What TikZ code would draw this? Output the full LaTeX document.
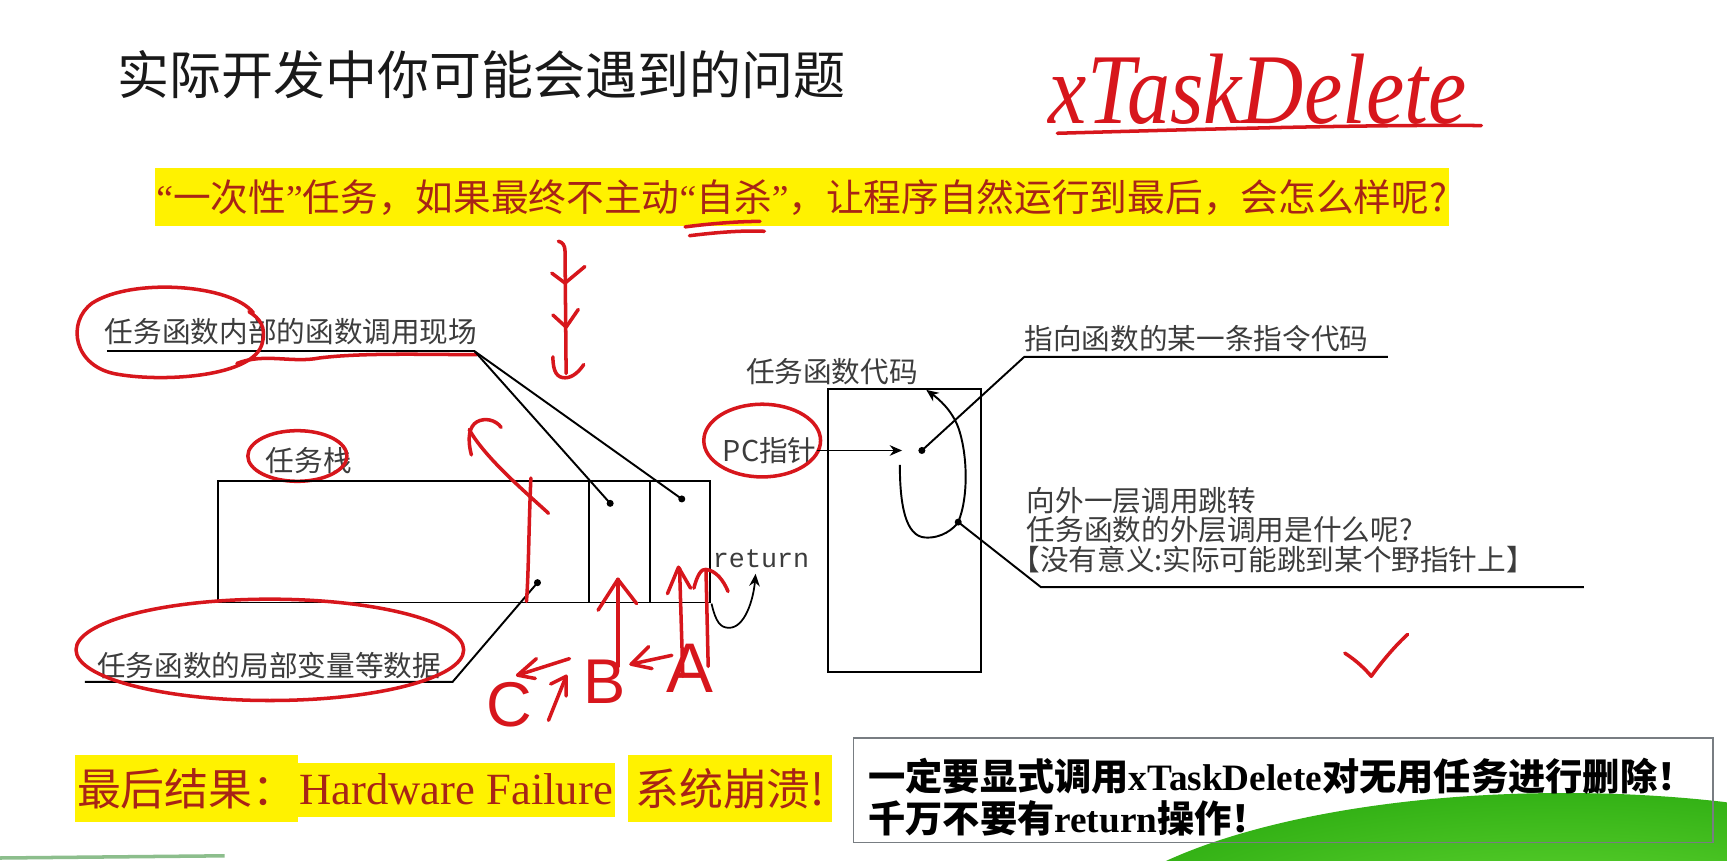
\documentclass[tikz,border=0pt]{standalone}
\usepackage{fontspec}
\setmainfont{Liberation Serif}
\newfontfamily\cjk{Noto Sans CJK SC}
\newfontfamily\mono{Liberation Mono}
\newfontfamily\hand{Liberation Sans}
\usetikzlibrary{arrows.meta,calc,shapes.geometric}

\definecolor{handred}{RGB}{215,22,28}
\definecolor{lblgray}{RGB}{60,60,60}
\definecolor{hltext}{RGB}{168,36,22}
\definecolor{boxgray}{RGB}{120,125,130}
\definecolor{greenin}{RGB}{112,226,58}
\definecolor{greenout}{RGB}{52,178,22}
\definecolor{graygreen}{RGB}{140,190,140}

\begin{document}
\begin{tikzpicture}[x=0.0220281cm, y=-0.0220281cm,
  lbl/.style={font=\cjk\fontsize{16.3pt}{18pt}\selectfont, text=lblgray, inner sep=0pt, anchor=west},
  ink/.style={draw=black, line width=1.1pt},
  redink/.style={draw=handred, line width=2pt, line cap=round, line join=round},
  dotmark/.style={circle, fill=black, inner sep=0pt, minimum size=4pt},
  hl/.style={fill=yellow, inner xsep=1pt, inner ysep=0pt, text=hltext, anchor=west},
  handletter/.style={text=handred, font=\hand\fontsize{36pt}{36pt}\selectfont, inner sep=0pt},
  tip/.style={-{Stealth[length=7pt,width=6pt]}}
]
\useasboundingbox (0,0) rectangle (1568,781);
\fill[white] (0,0) rectangle (1568,781);

% decorative green hill in the lower right corner
\begin{scope}
  \clip (0,0) rectangle (1568,781);
  \shade[inner color=greenin, outer color=greenout] (1420,870) ellipse [x radius=447, y radius=150];
  \draw[graygreen, line width=2pt] (0,779) -- (204,777);
\end{scope}

% heading and handwritten API name
\node[anchor=west, inner sep=0pt, font=\cjk\fontsize{29.6pt}{30pt}\selectfont, text=black!90] (title) at (106,68) {实际开发中你可能会遇到的问题};
\node[anchor=base west, inner sep=0pt, text=handred] (xtd) at (952,112) {\scalebox{0.86}[1]{\fontsize{57pt}{57pt}\selectfont\itshape xTaskDelete}};
\coordinate (xtdu1) at (960,121); \coordinate (xtdu2) at (1345,114);
\draw[redink] (xtdu1) .. controls (1100,117) and (1250,113) .. (xtdu2);

% highlighted question
\node[hl, minimum height=33.2pt, font=\cjk\fontsize{21.45pt}{22pt}\selectfont] (question) at (140,179) {{\rmfamily “}一次性{\rmfamily ”}任务，如果最终不主动{\rmfamily “}自杀{\rmfamily ”}，让程序自然运行到最后，会怎么样呢?};
\draw[redink] (622,206) .. controls (645,203) and (670,201) .. (690,201);
\draw[redink] (626,214) .. controls (650,211) and (675,209) .. (694,210);

% handwritten downward arrows
\draw[redink] (507,219) .. controls (511,220) and (513,223) .. (513,228) -- (514,339);
\draw[redink] (501,248) -- (513,257) -- (531,242);
\draw[redink] (502,286) -- (514,297) -- (525,281);
\draw[redink] (502,324) .. controls (502,338) and (506,343) .. (513,343) .. controls (520,343) and (526,337) .. (530,331);

% call-site label
\node[lbl] (callsite) at (95,301) {任务函数内部的函数调用现场};
\coordinate (callu1) at (97,319); \coordinate (callu2) at (431,319);
\draw[ink] (callu1) -- (callu2);
\draw[redink] (230,284) .. controls (210,258) and (120,252) .. (84,275) .. controls (60,292) and (66,334) .. (108,340) .. controls (150,347) and (230,342) .. (238,312) .. controls (242,297) and (236,289) .. (226,283);
\draw[redink] (215,330) .. controls (240,320) and (265,330) .. (290,325) .. controls (330,320) and (390,322) .. (433,322);

% task stack
\node[lbl] (stacklbl) at (241,418) {任务栈};
\draw[redink] (270,414) ellipse [x radius=45, y radius=23];
\coordinate (stackNW) at (198,437); \coordinate (stackSE) at (645,547);
\draw[ink] (stackNW) rectangle (stackSE);
\draw[ink] (535,437) -- (535,547);
\draw[ink] (590,437) -- (590,547);
\node[dotmark] (dotB) at (554,457) {};
\node[dotmark] (dotA) at (619,453) {};
\node[dotmark] (dotC) at (488,529) {};
\draw[ink] (callu2) -- (dotB.center);
\draw[ink] (callu2) -- (dotA.center);

% local data label
\node[lbl] (locals) at (88,604) {任务函数的局部变量等数据};
\coordinate (locu1) at (77,619); \coordinate (locu2) at (411,619);
\draw[ink] (locu1) -- (locu2) -- (dotC.center);
\draw[redink] (245,590) ellipse [x radius=176, y radius=46];

% return arrow
\node[anchor=west, inner sep=0pt, font=\mono\fontsize{15.2pt}{16pt}\selectfont, text=lblgray] (ret) at (647,507) {return};
\coordinate (retfrom) at (646,548); \coordinate (retto) at (686,521);
\draw[ink, line width=1pt, tip] (retfrom) .. controls (650,565) and (654,570) .. (662,570) .. controls (676,570) and (684,545) .. (retto);

% task code block
\node[lbl] (codelbl) at (677,337) {任务函数代码};
\coordinate (codeNW) at (752,353); \coordinate (codeSE) at (891,610);
\draw[ink] (codeNW) rectangle (codeSE);
\node[lbl] (pc) at (656,409) {PC指针};
\draw[redink] (692,400) ellipse [x radius=53, y radius=33];
\node[dotmark] (pcdot) at (837,409) {};
\coordinate (pctip) at (819,409);
\draw[ink, tip] (pc.east) -- (pctip);

\node[lbl] (pointlbl) at (930,307) {指向函数的某一条指令代码};
\coordinate (ptu1) at (930,324); \coordinate (ptu2) at (1260,324);
\draw[ink] (ptu2) -- (ptu1) -- (pcdot.center);

\coordinate (loopstart) at (817,422); \coordinate (loopend) at (841,354);
\node[dotmark] (retdot) at (870,474) {};
\draw[ink, tip] (loopstart) .. controls (817,458) and (822,487) .. (840,488) .. controls (855,489) and (866,480) .. (retdot.center) .. controls (880,450) and (878,410) .. (870,388) .. controls (864,372) and (852,362) .. (loopend);

\coordinate (outu1) at (945,533); \coordinate (outu2) at (1438,533);
\draw[ink] (retdot.center) -- (outu1) -- (outu2);
\node[lbl] (out1) at (932,455) {向外一层调用跳转};
\node[lbl] (out2) at (932,481) {任务函数的外层调用是什么呢?};
\node[lbl] (out3) at (918,508) {【没有意义:实际可能跳到某个野指针上】};

% handwritten unwinding order C <- B <- A
\draw[redink] (482,434) .. controls (480,480) and (480,520) .. (478,546);
\draw[redink] (498,466) .. controls (475,445) and (440,415) .. (426,390);
\draw[redink] (428,413) .. controls (424,398) and (426,387) .. (433,383) .. controls (440,379) and (450,381) .. (455,388);

\draw[redink] (561,605) -- (561,526);
\draw[redink] (543,554) -- (561,526) -- (578,548);
\draw[redink] (610,595) -- (573,603);
\draw[redink] (589,587) -- (573,603) -- (592,607);

\draw[redink] (620,614) -- (617,516);
\draw[redink] (643,605) -- (641,518);
\draw[redink] (606,539) -- (616,515) -- (627,534);
\draw[redink] (630,534) .. controls (633,522) and (637,516) .. (641,517) .. controls (650,518) and (657,527) .. (661,537);

\draw[redink] (517,598) -- (470,613);
\draw[redink] (487,598) -- (470,613) -- (486,616);
\draw[redink] (498,654) -- (514,614);
\draw[redink] (500,621) -- (514,614) -- (514,632);

\node[handletter] (letB) at (549,619) {B};
\node[handletter, font=\hand\fontsize{40pt}{40pt}\selectfont] (letA) at (626,607) {A};
\node[handletter] (letC) at (462,640) {C};

% tick mark
\draw[redink] (1221,593) .. controls (1232,600) and (1240,608) .. (1245,614) .. controls (1255,600) and (1268,585) .. (1278,576);

% result line
\node[hl, minimum height=38.2pt, font=\cjk\fontsize{25pt}{25pt}\selectfont] (res1) at (68,716) {最后结果：};
\node[hl, minimum height=30.7pt, font=\fontsize{25.4pt}{26pt}\selectfont] (res2) at (270,717) {Hardware Failure};
\node[hl, minimum height=38.2pt, inner xsep=4pt, font=\cjk\fontsize{25pt}{25pt}\selectfont] (res3) at (570,716) {系统崩溃!};

% advice box
\coordinate (boxNW) at (775,670); \coordinate (boxSE) at (1555,765);
\draw[boxgray, line width=1pt] (boxNW) rectangle (boxSE);
\node[anchor=west, inner sep=0pt, font=\cjk\bfseries\fontsize{21.2pt}{22pt}\selectfont] (must1) at (788,705) {一定要显式调用{\rmfamily\bfseries xTaskDelete}对无用任务进行删除！};
\node[anchor=west, inner sep=0pt, font=\cjk\bfseries\fontsize{21.2pt}{22pt}\selectfont] (must2) at (788,743) {千万不要有{\rmfamily\bfseries return}操作！};
\end{tikzpicture}
\end{document}
